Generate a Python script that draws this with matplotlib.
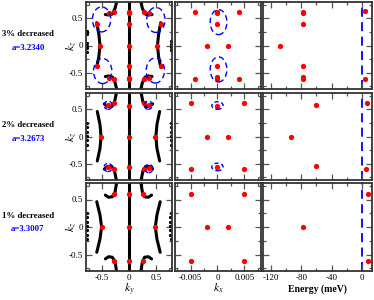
import matplotlib
matplotlib.use("Agg")
import matplotlib.pyplot as plt
from matplotlib.patches import Ellipse
from matplotlib.ticker import MultipleLocator

plt.rcParams['font.family'] = ['Liberation Serif', 'DejaVu Serif']
plt.rcParams['mathtext.fontset'] = 'stix'

# ---------------- data ----------------
row_titles = ["3% decreased", "2% decreased", "1% decreased"]
row_lattice = ["a=3.2340", "a=3.2673", "a=3.3007"]

# Fermi-surface contour pieces (ky, kz) per row
center_ky = [0.0, 0.0]
center_kz = [-0.8, 0.8]

r1_arcL_ky = [-0.60, -0.56, -0.54, -0.56, -0.60]
r1_arcR_ky = [0.59, 0.55, 0.53, 0.55, 0.59]
r1_arc_kz = [0.42, 0.20, 0.0, -0.20, -0.40]
r1_hookL_ky = [-0.44, -0.37, -0.31, -0.26, -0.235, -0.23]
r1_hookR_ky = [0.43, 0.36, 0.30, 0.25, 0.225, 0.22]
r1_hookT_kz = [0.57, 0.56, 0.58, 0.68, 0.78, 0.82]
r1_hookB_kz = [-0.57, -0.56, -0.58, -0.68, -0.78, -0.82]
r1_edgeL_ky = [-0.78, -0.78, -0.78, -0.775, -0.775, -0.78, -0.78]
r1_edgeL_kz = [0.27, 0.24, 0.21, 0.05, 0.0, -0.05, -0.12]
r1_edgeR_ky = [0.775, 0.775, 0.78, 0.78]
r1_edgeR_kz = [0.08, 0.02, -0.03, -0.08]

r2_arcL_ky = [-0.59, -0.54, -0.52, -0.54, -0.59]
r2_arcR_ky = [0.57, 0.52, 0.50, 0.52, 0.57]
r2_arc_kz = [0.46, 0.22, 0.0, -0.22, -0.45]
r2_hookL_ky = [-0.46, -0.40, -0.32, -0.27, -0.24, -0.23]
r2_hookR_ky = [0.44, 0.38, 0.31, 0.26, 0.23, 0.22]
r2_hookT_kz = [0.60, 0.55, 0.55, 0.63, 0.78, 0.82]
r2_hookB_kz = [-0.60, -0.55, -0.55, -0.63, -0.78, -0.82]
r2_edgeL_ky = [-0.785, -0.78, -0.78, -0.78, -0.78, -0.785]
r2_edgeL_kz = [0.25, 0.17, 0.09, 0.01, -0.07, -0.15]
r2_edgeR_ky = [0.78, 0.775, 0.775, 0.775, 0.78, 0.78]
r2_edgeR_kz = [0.25, 0.17, 0.09, 0.01, -0.07, -0.15]

r3_arcL_ky = [-0.60, -0.54, -0.51, -0.54, -0.60]
r3_arcR_ky = [0.58, 0.52, 0.49, 0.52, 0.58]
r3_arc_kz = [0.46, 0.22, 0.0, -0.22, -0.46]
r3_hookL_ky = [-0.44, -0.38, -0.31, -0.26, -0.235, -0.23]
r3_hookR_ky = [0.42, 0.36, 0.29, 0.25, 0.225, 0.22]
r3_hookT_kz = [0.58, 0.54, 0.55, 0.63, 0.78, 0.85]
r3_hookB_kz = [-0.58, -0.54, -0.55, -0.63, -0.78, -0.85]
r3_edgeL_ky = [-0.785, -0.78, -0.78, -0.78, -0.78, -0.78, -0.785]
r3_edgeL_kz = [0.26, 0.18, 0.10, 0.02, -0.06, -0.14, -0.21]
r3_edgeR_ky = [0.775, 0.77, 0.77, 0.77, 0.77, 0.77, 0.775]
r3_edgeR_kz = [0.26, 0.18, 0.10, 0.02, -0.06, -0.14, -0.21]

# Weyl points: (ky, kz) projections
r1_ky = [0, 0, 0, 0, 0, 0, 0, -0.60, 0.59, -0.54, 0.52, -0.60, 0.59,
         -0.38, -0.28, 0.27, 0.37, -0.38, -0.28, 0.27, 0.37]
r1_kz = [0.62, 0.59, 0.40, 0.0, -0.38, -0.59, -0.62, 0.40, 0.40, 0.0, 0.0, -0.38, -0.38,
         0.59, 0.62, 0.62, 0.59, -0.59, -0.62, -0.62, -0.59]
r2_ky = [0, 0, 0, -0.52, 0.49, -0.40, -0.28, 0.27, 0.37, -0.40, -0.28, 0.27, 0.37]
r2_kz = [0.56, 0.0, -0.57, 0.0, 0.0, 0.58, 0.61, 0.61, 0.58, -0.57, -0.60, -0.60, -0.58]
r3_ky = [0, 0, 0, -0.51, 0.48, -0.28, 0.26, -0.28, 0.26]
r3_kz = [0.60, 0.0, -0.62, 0.0, 0.0, 0.60, 0.60, -0.61, -0.61]

# (kx, kz) projections
r1_kx = [-0.0041, 0, 0, 0.0040, 0, -0.0020, 0.0020, 0, -0.0041, 0, 0, 0.0040]
r1_kxz = [0.62, 0.62, 0.59, 0.62, 0.40, 0.0, 0.0, -0.38, -0.61, -0.58, -0.61, -0.61]
r2_kx = [-0.0049, 0.0049, 0, -0.0020, 0.0020, -0.0049, 0.0049, 0]
r2_kxz = [0.61, 0.61, 0.57, 0.0, 0.0, -0.60, -0.60, -0.56]
r3_kx = [-0.0049, 0.0049, -0.0020, 0.0020, -0.0049, 0.0049]
r3_kxz = [0.60, 0.60, 0.0, 0.0, -0.62, -0.62]

# (Energy, kz)
r1_E = [-78, -78, -78, -108, -78, -78, -78, 4.5, 4.5]
r1_Ez = [0.62, 0.59, 0.40, 0.0, -0.38, -0.58, -0.61, 0.64, -0.61]
r2_E = [-60, -93, 6.5, -60, 6.0]
r2_Ez = [0.58, 0.0, 0.62, -0.55, -0.60]
r3_E = [-77, 8, 8]
r3_Ez = [0.0, 0.60, -0.62]

fermi_energy = 0.0

# highlighted regions (ellipse centre x, centre y, full width, full height)
r1_circ_ky = [-0.51, 0.50, -0.49, 0.49]
r1_circ_kz = [0.48, 0.47, -0.47, -0.46]
r1_circ_w = 0.34
r1_circ_h = 0.46
r2_circ_ky = [-0.39, 0.36, -0.39, 0.37]
r2_circ_kz = [0.575, 0.575, -0.57, -0.59]
r2_circ_w = 0.15
r2_circ_h = 0.15
r1_kxcirc_kx = [0.0002, 0.0002]
r1_kxcirc_kz = [0.43, -0.44]
r1_kxcirc_w = 0.0031
r1_kxcirc_h = 0.46
r2_kxcirc_kx = [0.0, 0.0]
r2_kxcirc_kz = [0.57, -0.56]
r2_kxcirc_w = 0.0021
r2_kxcirc_h = 0.14

# ---------------- figure ----------------
W, H = 374, 300
fig = plt.figure(figsize=(W / 100, H / 100), dpi=100)

cols_px = [(86, 172), (175, 261), (263, 372)]
rows_px = [(2, 89), (93, 180), (183, 271)]

RED = '#ff0000'
BLUE = '#0000ff'
MS = 3.8
LW = 2.2
TICKFS = 6.5


def make_ax(r, c):
    x0, x1 = cols_px[c]
    y0, y1 = rows_px[r]
    ax = fig.add_axes([x0 / W, 1 - y1 / H, (x1 - x0) / W, (y1 - y0) / H])
    for s in ax.spines.values():
        s.set_linewidth(1.3)
        s.set_color('#333333')
    ax.tick_params(which='both', direction='in', top=True, right=True,
                   labelsize=TICKFS, color='#555555', width=0.9, pad=2)
    ax.tick_params(which='major', length=4)
    ax.tick_params(which='minor', length=2.5)
    ax.set_ylim(-0.8, 0.8)
    ax.yaxis.set_major_locator(MultipleLocator(0.5))
    ax.yaxis.set_minor_locator(MultipleLocator(0.25))
    if c == 0:
        ax.set_xlim(-0.8, 0.8)
        ax.xaxis.set_major_locator(MultipleLocator(0.5))
        ax.xaxis.set_minor_locator(MultipleLocator(0.25))
        ax.set_yticks([-0.5, 0, 0.5])
        ax.set_yticklabels(['-0.5', '0', '0.5'])
    else:
        ax.tick_params(labelleft=False)
    if c == 1:
        ax.set_xlim(-0.0079, 0.0081)
        ax.xaxis.set_major_locator(MultipleLocator(0.005))
        ax.xaxis.set_minor_locator(MultipleLocator(0.0025))
    if c == 2:
        ax.set_xlim(-130.5, 13.5)
        ax.xaxis.set_major_locator(MultipleLocator(40))
        ax.xaxis.set_minor_locator(MultipleLocator(20))
    if r < 2:
        ax.tick_params(labelbottom=False)
    return ax


contours = [
    (r1_arcL_ky, r1_arcR_ky, r1_arc_kz, r1_hookL_ky, r1_hookR_ky, r1_hookT_kz, r1_hookB_kz,
     r1_edgeL_ky, r1_edgeL_kz, r1_edgeR_ky, r1_edgeR_kz),
    (r2_arcL_ky, r2_arcR_ky, r2_arc_kz, r2_hookL_ky, r2_hookR_ky, r2_hookT_kz, r2_hookB_kz,
     r2_edgeL_ky, r2_edgeL_kz, r2_edgeR_ky, r2_edgeR_kz),
    (r3_arcL_ky, r3_arcR_ky, r3_arc_kz, r3_hookL_ky, r3_hookR_ky, r3_hookT_kz, r3_hookB_kz,
     r3_edgeL_ky, r3_edgeL_kz, r3_edgeR_ky, r3_edgeR_kz),
]
pts_ky = [(r1_ky, r1_kz), (r2_ky, r2_kz), (r3_ky, r3_kz)]
pts_kx = [(r1_kx, r1_kxz), (r2_kx, r2_kxz), (r3_kx, r3_kxz)]
pts_E = [(r1_E, r1_Ez), (r2_E, r2_Ez), (r3_E, r3_Ez)]

for r in range(3):
    # ky-kz
    ax = make_ax(r, 0)
    aL, aR, akz, hL, hR, hT, hB, eLy, eLz, eRy, eRz = contours[r]
    kw = dict(color='black', lw=LW, solid_capstyle='round', zorder=2)
    ax.plot(center_ky, center_kz, **kw)
    ax.plot(aL, akz, **kw)
    ax.plot(aR, akz, **kw)
    ax.plot(hL, hT, **kw)
    ax.plot(hR, hT, **kw)
    ax.plot(hL, hB, **kw)
    ax.plot(hR, hB, **kw)
    ax.plot(eLy, eLz, 'o', color='black', ms=1.3, zorder=2)
    ax.plot(eRy, eRz, 'o', color='black', ms=1.3, zorder=2)
    ax.plot(pts_ky[r][0], pts_ky[r][1], 'o', color=RED, ms=MS, mec='none', zorder=3)
    if r == 0:
        for cx, cy in zip(r1_circ_ky, r1_circ_kz):
            ax.add_patch(Ellipse((cx, cy), r1_circ_w, r1_circ_h, fill=False,
                                 ec=BLUE, lw=1.0, ls=(0, (4, 2.5)), zorder=4))
    if r == 1:
        for cx, cy in zip(r2_circ_ky, r2_circ_kz):
            ax.add_patch(Ellipse((cx, cy), r2_circ_w, r2_circ_h, fill=False,
                                 ec=BLUE, lw=1.0, ls=(0, (3, 2)), zorder=4))
    if r == 2:
        ax.set_xticks([-0.5, 0, 0.5])
        ax.set_xticklabels(['-0.5', '0', '0.5'])
        ax.set_xlabel(r'$k_y$', fontsize=8.5, labelpad=0)

    # kx-kz
    ax = make_ax(r, 1)
    ax.plot(pts_kx[r][0], pts_kx[r][1], 'o', color=RED, ms=MS, mec='none', zorder=3)
    if r == 0:
        for cx, cy in zip(r1_kxcirc_kx, r1_kxcirc_kz):
            ax.add_patch(Ellipse((cx, cy), r1_kxcirc_w, r1_kxcirc_h, fill=False,
                                 ec=BLUE, lw=1.0, ls=(0, (4, 2.5)), zorder=4))
    if r == 1:
        for cx, cy in zip(r2_kxcirc_kx, r2_kxcirc_kz):
            ax.add_patch(Ellipse((cx, cy), r2_kxcirc_w, r2_kxcirc_h, fill=False,
                                 ec=BLUE, lw=1.0, ls=(0, (3, 2)), zorder=4))
    if r == 2:
        ax.set_xticks([-0.005, 0, 0.005])
        ax.set_xticklabels(['-0.005', '0', '0.005'])
        ax.set_xlabel(r'$k_x$', fontsize=8.5, labelpad=0)

    # E-kz
    ax = make_ax(r, 2)
    ax.axvline(fermi_energy, color=BLUE, lw=1.3, ls=(0, (5, 3)), zorder=1)
    ax.plot(pts_E[r][0], pts_E[r][1], 'o', color=RED, ms=MS, mec='none', zorder=3)
    if r == 2:
        ax.set_xticks([-120, -80, -40, 0])
        ax.set_xticklabels(['-120', '-80', '-40', '0'])
        ax.set_xlabel('Energy (meV)', fontsize=7, fontweight='bold', labelpad=2)

    # row labels
    yc = 1 - (rows_px[r][0] + rows_px[r][1]) / 2 / H
    fig.text(71 / W, yc, r'$k_z$', rotation=90, ha='center', va='center', fontsize=8.5)
    fig.text(28 / W, yc + 0.037, row_titles[r], ha='center', va='center',
             fontsize=6.3, fontweight='bold', color='black')
    fig.text(28 / W, yc - 0.008, row_lattice[r], ha='center', va='center',
             fontsize=6.3, fontweight='bold', color=BLUE)

fig.savefig('out.png', dpi=100)
